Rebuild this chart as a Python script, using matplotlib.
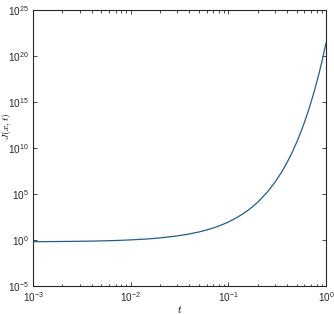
import matplotlib
matplotlib.use('Agg')
import matplotlib.pyplot as plt
from matplotlib.ticker import LogLocator, NullFormatter

plt.rcParams['font.family'] = ['Liberation Sans', 'DejaVu Sans']
plt.rcParams['mathtext.fontset'] = 'cm'

# values
t = [0.001, 0.002, 0.003, 0.005, 0.007, 0.01, 0.015, 0.02, 0.03, 0.04,
     0.05, 0.06, 0.07, 0.08, 0.09, 0.1, 0.12, 0.14, 0.16, 0.18,
     0.2, 0.25, 0.3, 0.35, 0.4, 0.45, 0.5, 0.55, 0.6, 0.65,
     0.7, 0.75, 0.8, 0.85, 0.9, 0.95, 1.0]
J = [6.6e-1, 7.0e-1, 7.3e-1, 8.1e-1, 8.9e-1, 1.04e0, 1.33e0, 1.71e0, 2.8e0, 4.6e0,
     7.6e0, 1.25e1, 2.05e1, 3.4e1, 5.6e1, 9.1e1, 2.5e2, 6.7e2, 1.8e3, 4.9e3,
     1.3e4, 1.6e5, 1.9e6, 2.3e7, 2.8e8, 3.3e9, 4.0e10, 4.8e11, 5.8e12, 6.9e13,
     8.3e14, 1.0e16, 1.2e17, 1.4e18, 1.7e19, 2.1e20, 2.5e21]

fig = plt.figure(figsize=(3.34, 3.14), dpi=100)
ax = fig.add_axes([0.099, 0.089, 0.877, 0.879])
ax.plot(t, J, color='#1f5f8b', lw=0.9)

ax.set_xscale('log')
ax.set_yscale('log')
ax.set_xlim(1e-3, 1e0)
ax.set_ylim(1e-5, 1e25)
ax.set_yticks([1e-5, 1e0, 1e5, 1e10, 1e15, 1e20, 1e25])
ax.yaxis.set_minor_locator(plt.NullLocator())
ax.xaxis.set_minor_locator(LogLocator(base=10, subs=range(2, 10)))
ax.xaxis.set_minor_formatter(NullFormatter())

ax.tick_params(which='both', direction='in', top=True, right=True,
               labelsize=7.2, colors='#262626', width=0.6)
ax.tick_params(which='major', length=3, pad=3)
ax.tick_params(which='minor', length=1.8)
for s in ax.spines.values():
    s.set_color('#262626')
    s.set_linewidth(0.8)

ax.set_xlabel('$t$', fontsize=7.5, labelpad=0)
ax.set_ylabel('$J(x,t)$', fontsize=7)
ax.yaxis.set_label_coords(-0.068, 0.58)

fig.savefig('out.png', dpi=100)
